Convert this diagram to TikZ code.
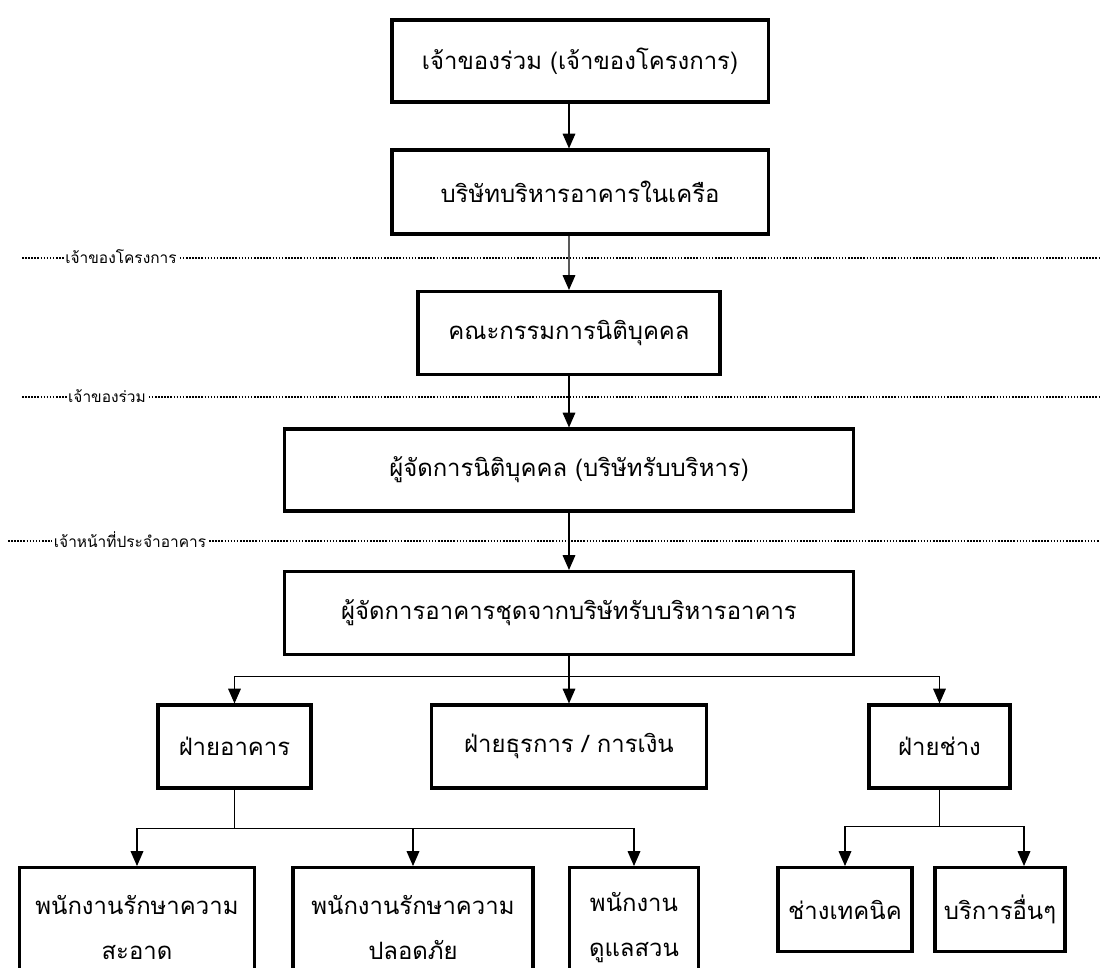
\documentclass[tikz,border=0pt]{standalone}
\usepackage{fontspec}
\newfontfamily\thaifont[Script=Thai]{Loma}
\usetikzlibrary{positioning,arrows.meta,calc}
\tikzset{
	org chart/.style={
		x=0.025cm,
		y=-0.025cm,
		font=\thaifont
	},
	org box/.style={
		rectangle,
		draw,
		line width=2.2pt,
		inner sep=2pt,
		align=center,
		font=\thaifont\fontsize{17}{32}\selectfont
	},
	org arrow/.style={
		line width=0.8pt,
		-{Triangle[length=10.5pt,width=9pt]}
	},
	org line/.style={
		line width=0.8pt
	},
	level line/.style={
		line width=1.4pt,
		dash pattern=on 1.1pt off 1.1pt
	},
	level label/.style={
		fill=white,
		inner sep=1pt,
		font=\thaifont\fontsize{11}{13}\selectfont
	}
}

\begin{document}
\begin{tikzpicture}[org chart]
	\fill[white] (0,0) rectangle (1100,968);
	\useasboundingbox (0,0) rectangle (1100,968);
	\clip (0,0) rectangle (1100,968);

	% levels
	\draw[level line] (22,258) -- (1100,258);
	\node[level label] (lvl owner) at (121,257) {เจ้าของโครงการ};
	\draw[level line] (22,397) -- (1100,397);
	\node[level label] (lvl co) at (107,396) {เจ้าของร่วม};
	\draw[level line] (8,541) -- (1100,541);
	\node[level label] (lvl staff) at (130,540) {เจ้าหน้าที่ประจำอาคาร};

	% main column
	\node[org box, minimum width=9.4cm, minimum height=2.05cm] (owners) at (580,61) {เจ้าของร่วม (เจ้าของโครงการ)};
	\node[org box, minimum width=9.4cm, minimum height=2.1cm] (group co) at (580,192) {บริษัทบริหารอาคารในเครือ};
	\node[org box, minimum width=7.55cm, minimum height=2.075cm] (board) at (569,333) {คณะกรรมการนิติบุคคล};
	\node[org box, minimum width=14.2cm, minimum height=2.05cm] (juristic) at (569,470) {ผู้จัดการนิติบุคคล (บริษัทรับบริหาร)};
	\node[org box, minimum width=14.2cm, minimum height=2.075cm] (manager) at (569,613) {ผู้จัดการอาคารชุดจากบริษัทรับบริหารอาคาร};

	% departments
	\node[org box, minimum width=3.825cm, minimum height=2.075cm] (building) at (234.5,746.5) {ฝ่ายอาคาร};
	\node[org box, minimum width=6.875cm, minimum height=2.075cm] (admin) at (569,746.5) {ฝ่ายธุรการ / การเงิน};
	\node[org box, minimum width=3.525cm, minimum height=2.075cm] (tech) at (939.5,746.5) {ฝ่ายช่าง};

	% staff
	\node[org box, anchor=north, minimum width=5.875cm, minimum height=3cm] (cleaning) at (137,866) {พนักงานรักษาความ\\สะอาด};
	\node[org box, anchor=north, minimum width=6cm, minimum height=3cm] (security) at (413,866) {พนักงานรักษาความ\\ปลอดภัย};
	\node[org box, anchor=north, minimum width=3.225cm, minimum height=3cm] (garden) at (634,866) {พนักงาน\\ดูแลสวน};
	\node[org box, anchor=north, minimum width=3.35cm, minimum height=2.1cm] (technician) at (845,866) {ช่างเทคนิค};
	\node[org box, anchor=north, minimum width=3.25cm, minimum height=2.1cm] (other) at (1000,866) {บริการอื่นๆ};

	% connectors
	\draw[org arrow] ([xshift=-0.275cm]owners.south) -- ([xshift=-0.275cm]group co.north);
	\draw[org arrow] ([xshift=-0.275cm]group co.south) -- (board.north);
	\draw[org arrow] (board.south) -- (juristic.north);
	\draw[org arrow] (juristic.south) -- (manager.north);

	\draw[org arrow] (manager.south) -- ++(0,20) -| (building.north);
	\draw[org arrow] (manager.south) -- (admin.north);
	\draw[org arrow] (manager.south) -- ++(0,20) -| (tech.north);

	\draw[org arrow] (building.south) -- ++(0,39) -| (cleaning.north);
	\draw[org arrow] (building.south) -- ++(0,39) -| (security.north);
	\draw[org arrow] (building.south) -- ++(0,39) -| (garden.north);

	\draw[org arrow] (tech.south) -- ++(0,37) -| (technician.north);
	\draw[org arrow] (tech.south) -- ++(0,37) -| ([xshift=0.6cm]other.north);
\end{tikzpicture}
\end{document}
